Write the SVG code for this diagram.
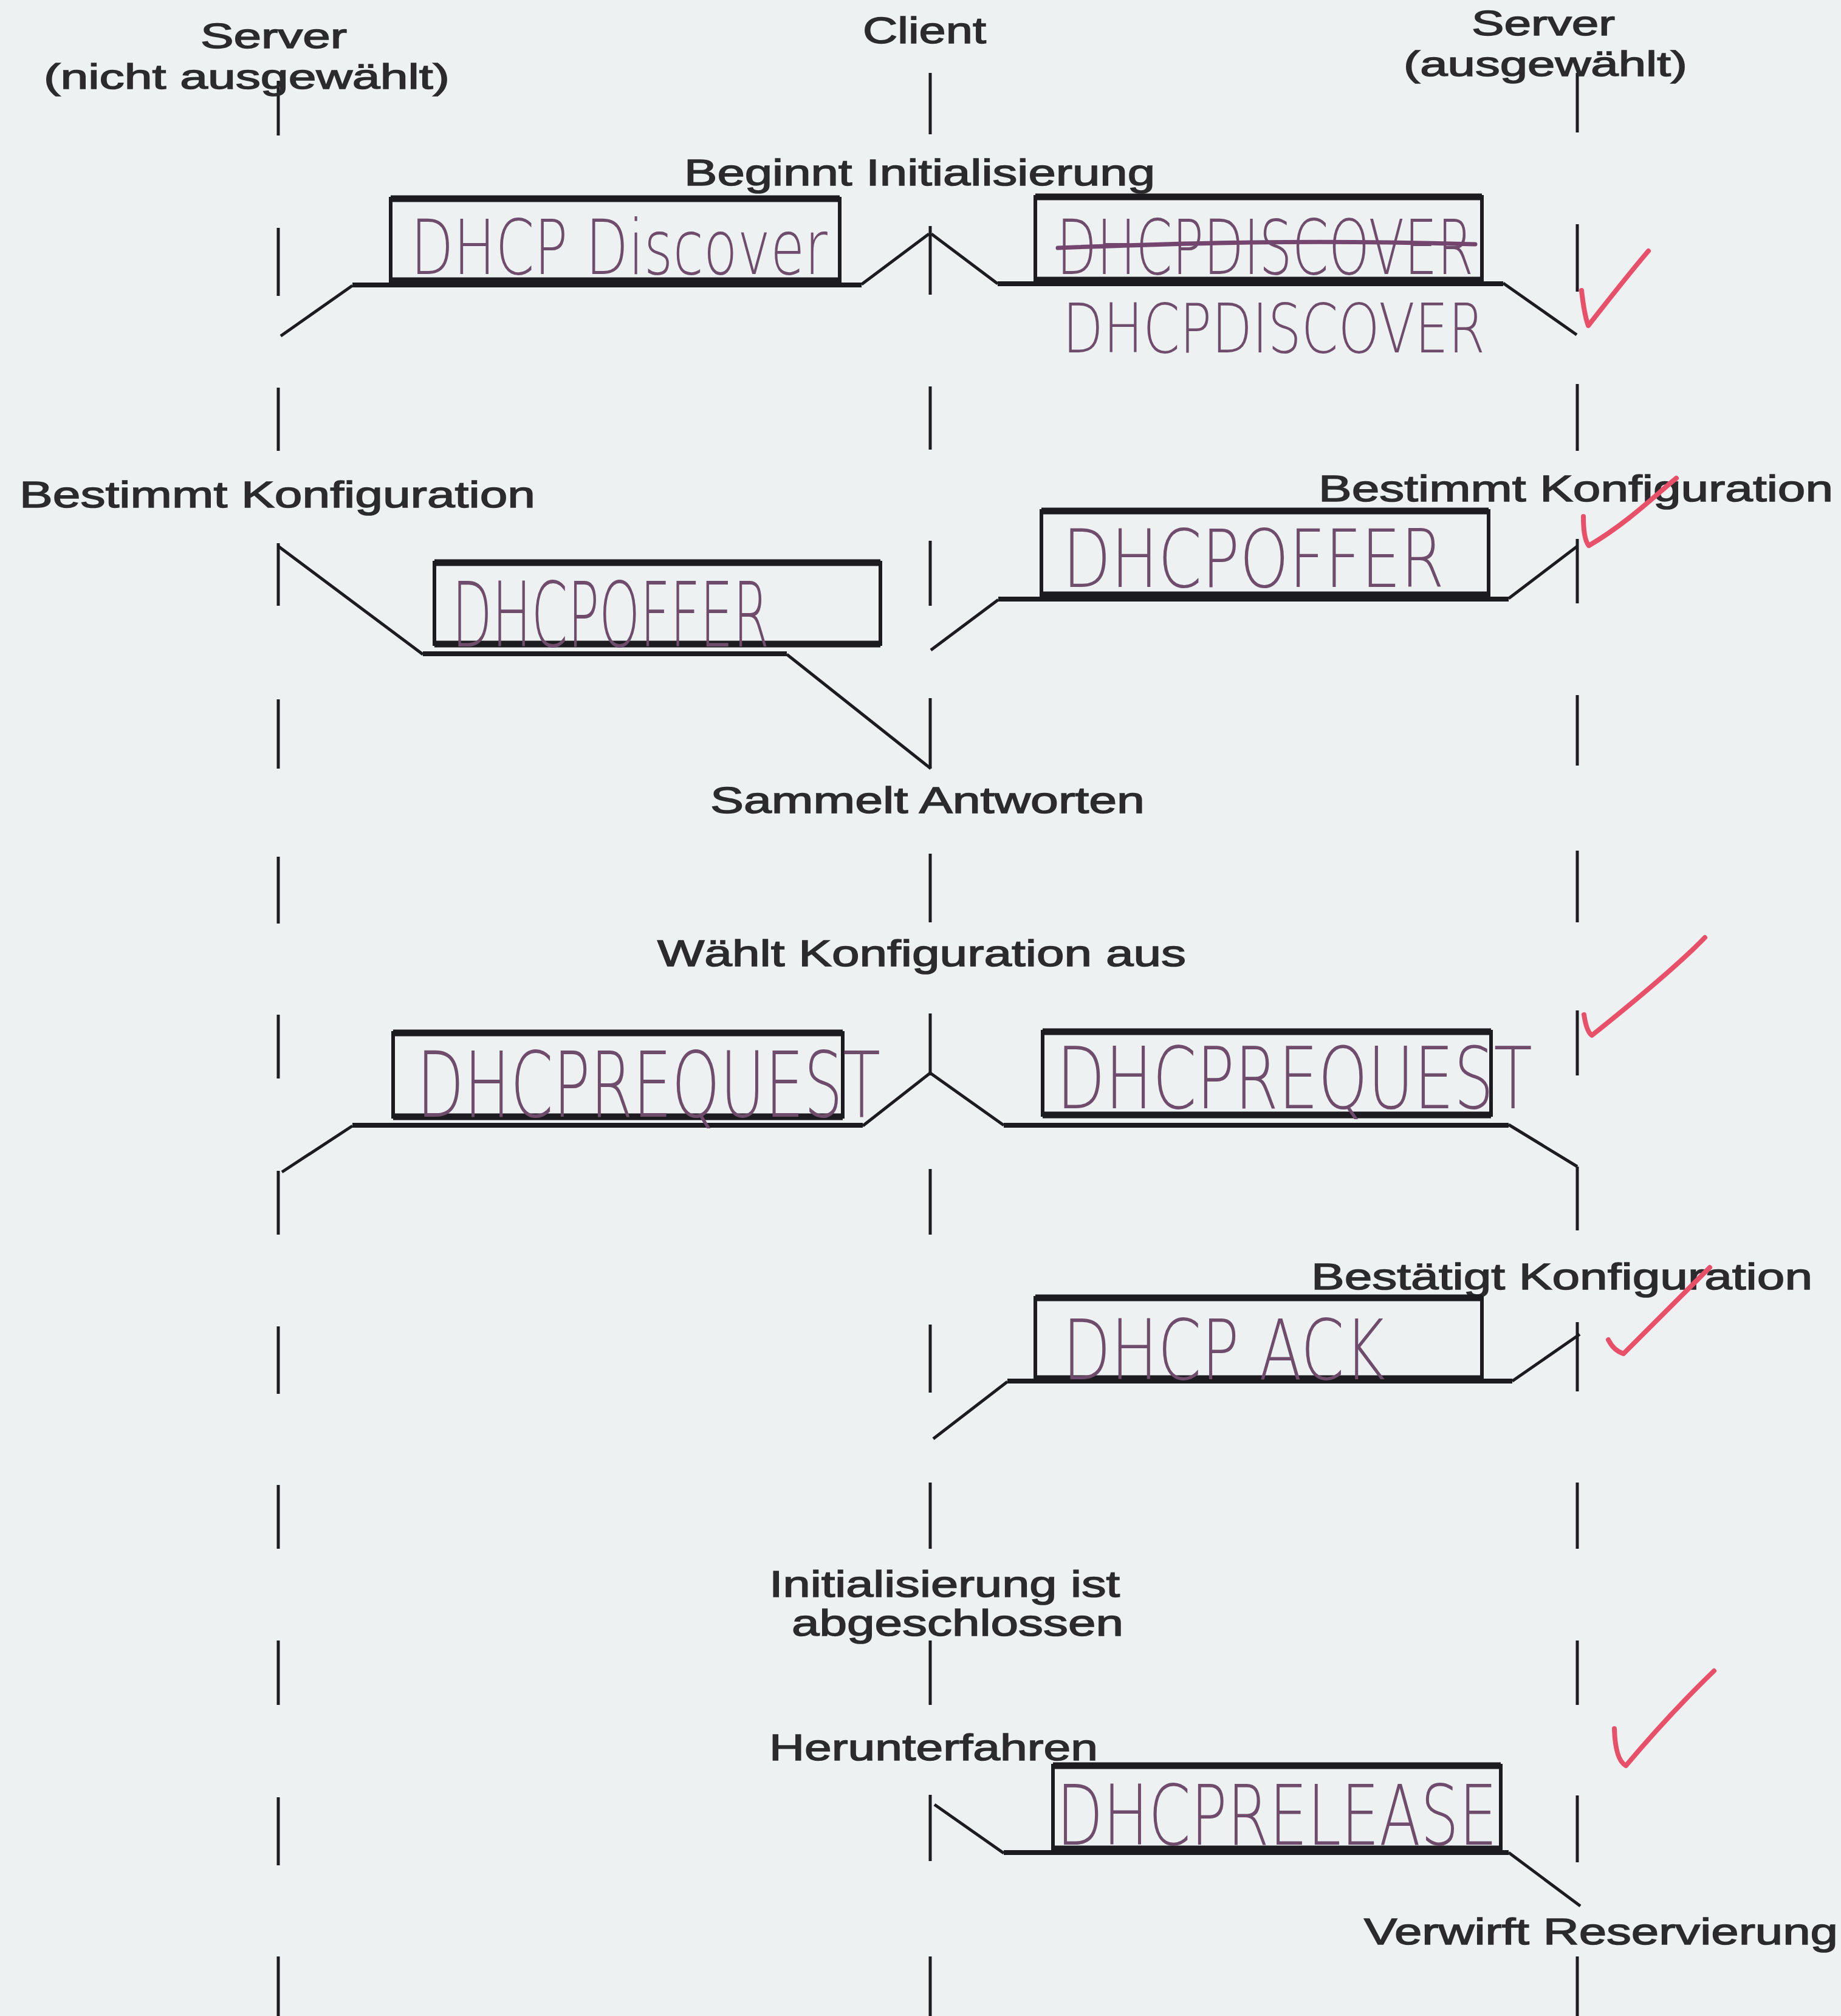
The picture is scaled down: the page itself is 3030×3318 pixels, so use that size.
<svg xmlns="http://www.w3.org/2000/svg" width="3030" height="3318" viewBox="0 0 3030 3318">
<style>
.bg{fill:#edf1f2}
.lbl{font-family:"Liberation Sans",Arial,sans-serif;font-size:62px;fill:#2b2b2e;stroke:#2b2b2e;stroke-width:1.5}
.hdr{font-size:58px}
.life{stroke:#1c1c20;stroke-width:5;fill:none}
.msg{stroke:#1c1c20;stroke-width:5;fill:none;stroke-linejoin:miter}
.bar{stroke:#1c1c20;stroke-width:8;fill:none}
.box{fill:none;stroke:#1c1c20;stroke-width:6}
.edge{stroke:#1c1c20;stroke-width:11}
.hw{font-family:"DejaVu Sans",sans-serif;font-weight:200;fill:#6f4c6c}
.strike{stroke:#74466f;stroke-width:7;fill:none;stroke-linecap:round}
.chk{stroke:#e8506a;stroke-width:8;fill:none;stroke-linecap:round;stroke-linejoin:round}
</style>
<rect class="bg" x="0" y="0" width="3030" height="3318"/>

<g id="lifelines">
<path id="life-server-left" class="life" d="M458 133V223M458 375V487M458 638V742M458 894V997M458 1151V1265M458 1410V1520M458 1670V1775M458 1927V2032M458 2183V2294M458 2444V2549M458 2700V2806M458 2958V3070M458 3220V3318"/>
<path id="life-client" class="life" d="M1531 120V221M1531 372V485M1531 636V740M1531 890V997M1531 1149V1265M1531 1405V1518M1531 1668V1770M1531 1924V2032M1531 2180V2292M1531 2440V2549M1531 2700V2806M1531 2954V3063M1531 3220V3318"/>
<path id="life-server-right" class="life" d="M2596 120V218M2596 369V480M2596 632V742M2596 887V993M2596 1144V1260M2596 1400V1518M2596 1663V1770M2596 1920V2025M2596 2176V2290M2596 2440V2549M2596 2700V2806M2596 2955V3065M2596 3220V3318"/>
</g>

<g id="headers">
<text id="h-server-left" class="lbl hdr" x="330" y="79" textLength="241" lengthAdjust="spacingAndGlyphs">Server</text>
<text id="h-server-left-sub" class="lbl hdr" x="72" y="146" textLength="668" lengthAdjust="spacingAndGlyphs">(nicht ausgewählt)</text>
<text id="h-client" class="lbl" x="1420" y="71" textLength="203" lengthAdjust="spacingAndGlyphs">Client</text>
<text id="h-server-right" class="lbl hdr" x="2422" y="58" textLength="236" lengthAdjust="spacingAndGlyphs">Server</text>
<text id="h-server-right-sub" class="lbl hdr" x="2310" y="125" textLength="467" lengthAdjust="spacingAndGlyphs">(ausgewählt)</text>
</g>

<g id="events">
<text class="lbl" x="1126" y="305" textLength="775" lengthAdjust="spacingAndGlyphs">Beginnt Initialisierung</text>
<text class="lbl" x="32" y="835" textLength="849" lengthAdjust="spacingAndGlyphs">Bestimmt Konfiguration</text>
<text class="lbl" x="2170" y="825" textLength="847" lengthAdjust="spacingAndGlyphs">Bestimmt Konfiguration</text>
<text class="lbl" x="1169" y="1338" textLength="715" lengthAdjust="spacingAndGlyphs">Sammelt Antworten</text>
<text class="lbl" x="1082" y="1590" textLength="870" lengthAdjust="spacingAndGlyphs">Wählt Konfiguration aus</text>
<text class="lbl" x="2158" y="2122" textLength="825" lengthAdjust="spacingAndGlyphs">Bestätigt Konfiguration</text>
<text class="lbl" x="1266" y="2628" textLength="577" lengthAdjust="spacingAndGlyphs">Initialisierung ist</text>
<text class="lbl" x="1303" y="2692" textLength="546" lengthAdjust="spacingAndGlyphs">abgeschlossen</text>
<text class="lbl" x="1266" y="2897" textLength="541" lengthAdjust="spacingAndGlyphs">Herunterfahren</text>
<text class="lbl" x="2245" y="3200" textLength="780" lengthAdjust="spacingAndGlyphs">Verwirft Reservierung</text>
</g>

<g id="connectors">
<path id="c-discover-left" class="msg" d="M1529 385L1418 468M580 470L462 553"/>
<path class="bar" d="M580 469H1418"/>
<path id="c-discover-right" class="msg" d="M1533 385L1642 467M2474 466L2595 551"/>
<path class="bar" d="M1642 467H2474"/>
<path id="c-offer-left" class="msg" d="M458 899L696 1077M1295 1077L1532 1265"/>
<path class="bar" d="M696 1076H1295"/>
<path id="c-offer-right" class="msg" d="M2596 899L2483 985M1643 987L1532 1070"/>
<path class="bar" d="M1643 986H2483"/>
<path id="c-request-left" class="msg" d="M464 1929L580 1853M1420 1853L1531 1766"/>
<path class="bar" d="M580 1852H1420"/>
<path id="c-request-right" class="msg" d="M1531 1766L1652 1852M2483 1851L2596 1920"/>
<path class="bar" d="M1652 1852H2483"/>
<path id="c-ack" class="msg" d="M2600 2196L2489 2273M1658 2274L1536 2368"/>
<path class="bar" d="M1658 2273H2489"/>
<path id="c-release" class="msg" d="M1538 2970L1652 3050M2483 3049L2601 3137"/>
<path class="bar" d="M1652 3049H2483"/>
</g>

<g id="node-discover-left">
<rect class="box" x="643" y="327" width="739" height="135"/>
<path class="edge" d="M643 327H1382M643 462H1382"/>
<text class="hw" x="676" y="451" font-size="124" textLength="686" lengthAdjust="spacingAndGlyphs">DHCP Discover</text>
</g>
<g id="node-discover-right">
<rect class="box" x="1704" y="324" width="735" height="137"/>
<path class="edge" d="M1704 324H2439M1704 461H2439"/>
<text class="hw" x="1739" y="451" font-size="124" textLength="686" lengthAdjust="spacingAndGlyphs">DHCPDISCOVER</text>
<path class="strike" d="M1741 408C1950 400 2150 394 2428 402"/>
<text class="hw" x="1749" y="580" font-size="112" textLength="695" lengthAdjust="spacingAndGlyphs">DHCPDISCOVER</text>
</g>
<g id="node-offer-left">
<rect class="box" x="715" y="926" width="734" height="134"/>
<path class="edge" d="M715 926H1449M715 1060H1449"/>
<text class="hw" x="744" y="1064" font-size="148" textLength="522" lengthAdjust="spacingAndGlyphs">DHCPOFFER</text>
</g>
<g id="node-offer-right">
<rect class="box" x="1714" y="841" width="736" height="138"/>
<path class="edge" d="M1714 841H2450M1714 979H2450"/>
<text class="hw" x="1749" y="966" font-size="132" textLength="628" lengthAdjust="spacingAndGlyphs">DHCPOFFER</text>
</g>
<g id="node-request-left">
<rect class="box" x="647" y="1700" width="740" height="138"/>
<path class="edge" d="M647 1700H1387M647 1838H1387"/>
<text class="hw" x="686" y="1838" font-size="150" textLength="763" lengthAdjust="spacingAndGlyphs">DHCPREQUEST</text>
</g>
<g id="node-request-right">
<rect class="box" x="1716" y="1698" width="738" height="137"/>
<path class="edge" d="M1716 1698H2454M1716 1835H2454"/>
<text class="hw" x="1739" y="1824" font-size="140" textLength="783" lengthAdjust="spacingAndGlyphs">DHCPREQUEST</text>
</g>
<g id="node-ack">
<rect class="box" x="1704" y="2136" width="735" height="133"/>
<path class="edge" d="M1704 2136H2439M1704 2269H2439"/>
<text class="hw" x="1749" y="2270" font-size="138" textLength="531" lengthAdjust="spacingAndGlyphs">DHCP ACK</text>
</g>
<g id="node-release">
<rect class="box" x="1733" y="2906" width="737" height="137"/>
<path class="edge" d="M1733 2906H2470M1733 3043H2470"/>
<text class="hw" x="1739" y="3036" font-size="138" textLength="725" lengthAdjust="spacingAndGlyphs">DHCPRELEASE</text>
</g>

<g id="checks">
<path class="chk" d="M2603 478C2606 505 2610 525 2614 536C2650 490 2690 440 2713 413"/>
<path class="chk" d="M2606 850C2606 870 2608 890 2615 898C2680 860 2730 810 2759 787"/>
<path class="chk" d="M2607 1670C2610 1690 2614 1700 2620 1704C2700 1640 2770 1580 2806 1543"/>
<path class="chk" d="M2647 2205C2652 2215 2660 2224 2672 2228C2740 2160 2790 2110 2814 2086"/>
<path class="chk" d="M2657 2845C2658 2880 2665 2900 2676 2906C2740 2830 2790 2780 2821 2750"/>
</g>
</svg>
